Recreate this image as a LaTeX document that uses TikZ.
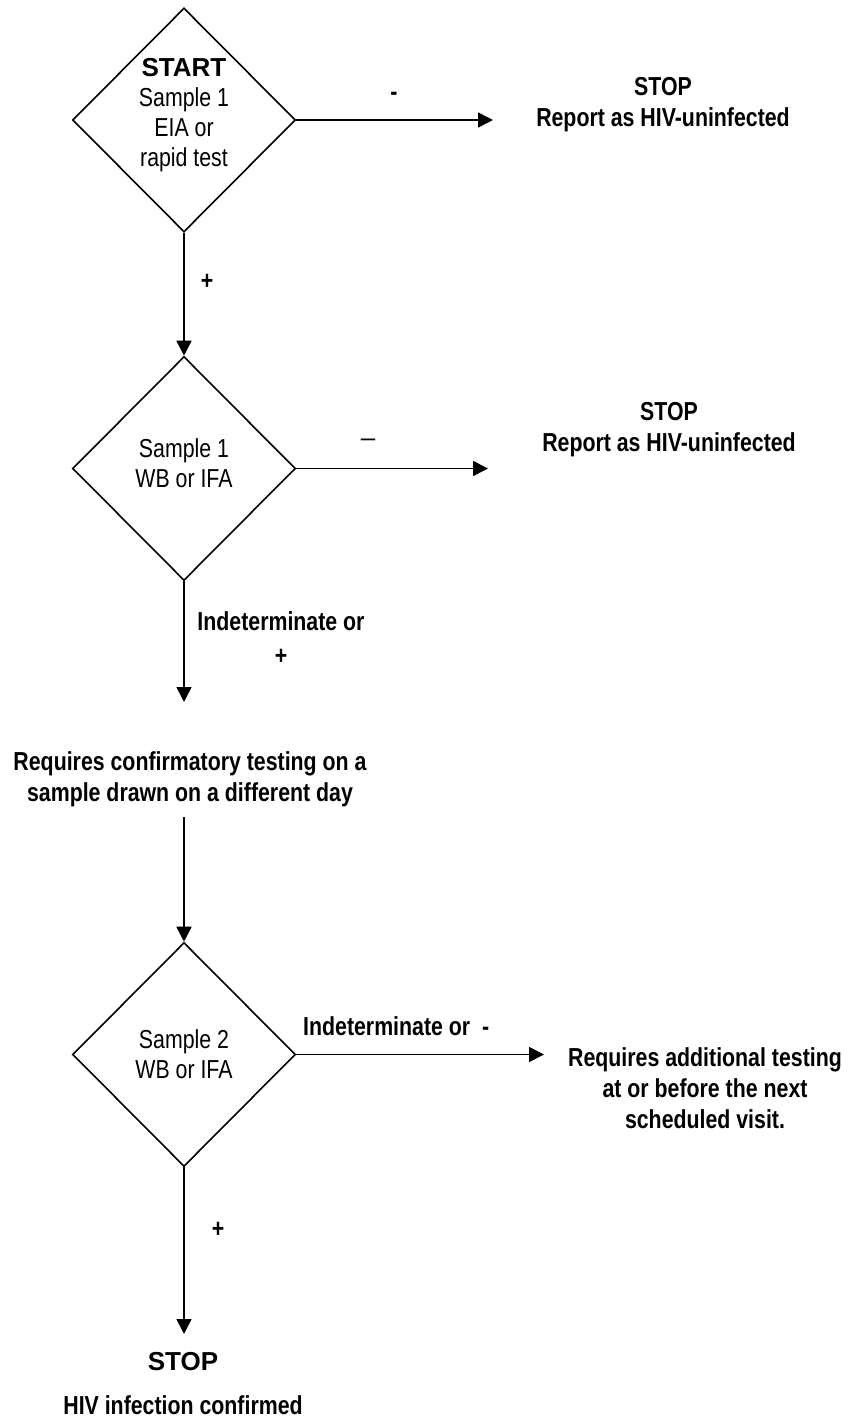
\documentclass[tikz,border=0pt]{standalone}
\usepackage{fontspec}
\setmainfont{Liberation Sans}
\newfontfamily\nar[FakeStretch=0.82]{Liberation Sans}
\usetikzlibrary{shapes.geometric,arrows.meta}
\begin{document}
\begin{tikzpicture}[x=1pt,y=-1pt,
  dia/.style={draw, diamond, minimum width=223pt, minimum height=224pt, inner sep=0pt, line width=1.6pt},
  conn/.style={line width=1.6pt, -{Triangle[length=15pt,width=15pt]}},
  lbl/.style={font=\nar\bfseries\fontsize{26}{31}\selectfont, align=center, inner sep=0pt},
  dtxt/.style={font=\nar\fontsize{26}{30}\selectfont, align=center, inner sep=0pt},
  bigb/.style={font=\bfseries\fontsize{26}{31}\selectfont, inner sep=0pt}]
\path[fill=white] (0,0) rectangle (851,1421);

% decision diamonds
\node[dia] (d1) at (184,120) {};
\node[dtxt] (t1) at (184,115) {{\normalfont\bfseries START}\\Sample 1\\EIA or\\rapid test};
\node[dia] (d2) at (184,468.5) {};
\node[dtxt] (t2) at (184,463) {Sample 1\\WB or IFA};
\node[dia] (d3) at (184,1054.5) {};
\node[dtxt] (t3) at (184,1054) {Sample 2\\WB or IFA};

% outcome texts
\node[lbl] (s1) at (663,105) {STOP\\Report as HIV-uninfected};
\node[lbl] (s2) at (669,430) {STOP\\Report as HIV-uninfected};
\node[lbl] (conf) at (190,779) {Requires confirmatory testing on a\\sample drawn on a different day};
\node[lbl] (add) at (705,1088) {Requires additional testing\\at or before the next\\scheduled visit.};
\node[bigb] (s3) at (183,1362) {STOP};
\node[lbl] (fin) at (183,1405) {HIV infection confirmed};

% free ends
\coordinate (e1) at (493,120);
\coordinate (e2) at (488,468.5);
\coordinate (e4) at (184,702);
\coordinate (b5) at (184,817);
\coordinate (e6) at (544,1054.5);
\coordinate (e7) at (184,1334);

% connectors
\draw[conn] (d1.east) -- (e1);
\draw[conn] (d1.south) -- (d2.north);
\draw[conn] (d2.east) -- (e2);
\draw[conn] (d2.south) -- (e4);
\draw[conn] (b5) -- (d3.north);
\draw[conn] (d3.east) -- (e6);
\draw[conn] (d3.south) -- (e7);

% connector labels
\node[lbl] (m1) at (394,96) {-};
\node[lbl] (p1) at (207,282) {+};
\node[font=\fontsize{26}{31}\selectfont, inner sep=0pt] (m2) at (368,443) {–};
\node[lbl] (l4) at (281,638) {Indeterminate or\\[3pt]+};
\node[lbl, anchor=west] (l6) at (303,1026) {Indeterminate or~ -};
\node[lbl] (p7) at (218,1230) {+};
\end{tikzpicture}
\end{document}
